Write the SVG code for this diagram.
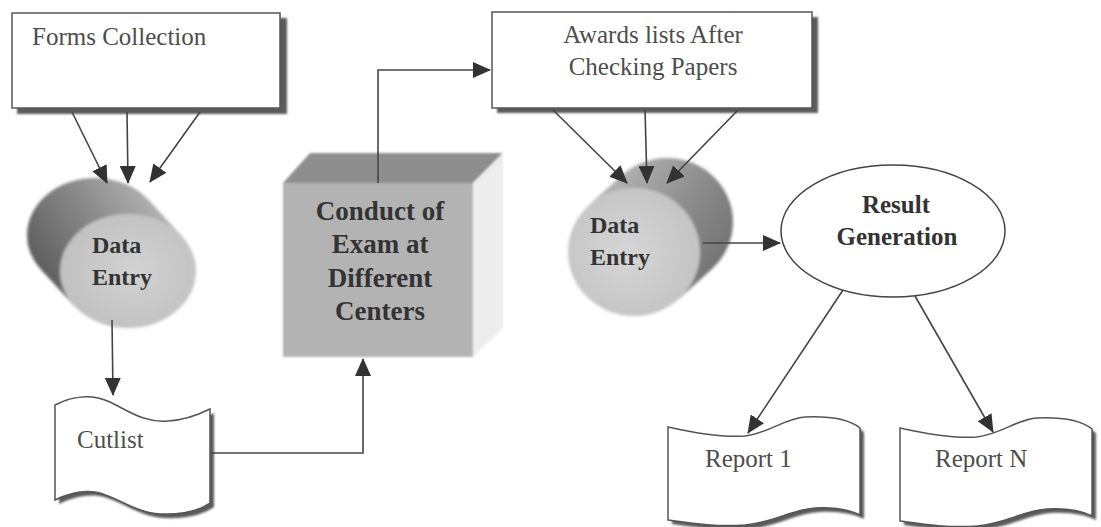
<svg xmlns="http://www.w3.org/2000/svg" width="1101" height="527" viewBox="0 0 1101 527">
  <style>
    .lbl { font-family: "Liberation Serif", "Times New Roman", serif; font-size: 25px; fill: #4d4d4d; }
    .bold { font-family: "Liberation Serif", "Times New Roman", serif; font-weight: bold; fill: #333333; }
    .box { fill: #ffffff; stroke: #555555; stroke-width: 1.5; }
    .shadow { fill: #5a5a5a; }
    .edge { fill: none; stroke: #444444; stroke-width: 1.6; }
  </style>
  <defs>
    <marker id="arr" viewBox="0 0 18 16" refX="17" refY="8" markerWidth="18" markerHeight="16" markerUnits="userSpaceOnUse" orient="auto">
      <path d="M0,0 L18,8 L0,16 Z" fill="#333333"/>
    </marker>
    <linearGradient id="bodyL" gradientUnits="userSpaceOnUse" x1="30" y1="285" x2="175" y2="190">
      <stop offset="0" stop-color="#555555"/>
      <stop offset="0.5" stop-color="#888888"/>
      <stop offset="1" stop-color="#c0c0c0"/>
    </linearGradient>
    <linearGradient id="bodyR" gradientUnits="userSpaceOnUse" x1="600" y1="180" x2="735" y2="265">
      <stop offset="0" stop-color="#b8b8b8"/>
      <stop offset="0.55" stop-color="#8c8c8c"/>
      <stop offset="1" stop-color="#6e6e6e"/>
    </linearGradient>
    <radialGradient id="faceL" cx="0.55" cy="0.5" r="0.6">
      <stop offset="0" stop-color="#d2d2d2"/>
      <stop offset="1" stop-color="#bfbfbf"/>
    </radialGradient>
    <radialGradient id="faceR" cx="0.45" cy="0.5" r="0.6">
      <stop offset="0" stop-color="#d6d6d6"/>
      <stop offset="1" stop-color="#c2c2c2"/>
    </radialGradient>
    <filter id="soft" x="-10%" y="-10%" width="120%" height="120%">
      <feGaussianBlur stdDeviation="1.6"/>
    </filter>
    <filter id="softer" x="-5%" y="-5%" width="110%" height="110%">
      <feGaussianBlur stdDeviation="0.8"/>
    </filter>
    <!-- wavy document outline, wave rises first then dips -->
    <path id="docA" d="M55,405 C70,397 90,393 110,402 C130,412 145,423 168,421 C185,420 200,414 210,409 L210,503 C200,510 185,515 160,514 C135,513 115,495 95,492 C80,490 65,495 55,500 Z"/>
    <!-- wavy document outline, wave dips first then rises -->
    <path id="docB" d="M0,0 C22,5 52,11 77,9 C102,6 117,-9 137,-10 C162,-11 182,-7 192,1 L192,88 C182,83 167,80 147,81 C122,83 107,95 77,98 C47,100 22,96 0,93 Z"/>
  </defs>

  <!-- Forms Collection -->
  <g id="forms-collection">
    <rect class="shadow" x="17" y="18" width="270" height="96" filter="url(#softer)"/>
    <rect class="box" x="12" y="13" width="268" height="95"/>
    <text class="lbl" x="32" y="45">Forms Collection</text>
  </g>

  <!-- Awards lists -->
  <g id="awards-lists">
    <rect class="shadow" x="497" y="17" width="321" height="96" filter="url(#softer)"/>
    <rect class="box" x="492" y="12" width="320" height="96"/>
    <text class="lbl" x="653" y="43" text-anchor="middle">Awards lists After</text>
    <text class="lbl" x="653" y="75" text-anchor="middle">Checking Papers</text>
  </g>

  <!-- Data Entry (left cylinder) -->
  <g id="data-entry-1">
    <g filter="url(#soft)">
      <ellipse cx="95" cy="235" rx="68" ry="57" fill="url(#bodyL)"/>
      <polygon points="181.9,236.3 148.9,200.3 41.1,269.7 74.1,305.7" fill="url(#bodyL)"/>
      <ellipse cx="128" cy="271" rx="68" ry="57" fill="url(#faceL)"/>
    </g>
    <text class="bold" font-size="24" x="92" y="253">Data</text>
    <text class="bold" font-size="24" x="92" y="285">Entry</text>
  </g>

  <!-- Conduct of Exam box -->
  <g id="conduct-exam">
    <g filter="url(#softer)">
      <polygon points="283,183 310,153 503,153 473,183" fill="#8e8e8e"/>
      <polygon points="473,183 503,153 503,328 473,357" fill="#ededed"/>
      <rect x="283" y="183" width="190" height="174" fill="#b3b3b3"/>
    </g>
    <g class="bold" font-size="27" text-anchor="middle">
      <text x="380" y="220">Conduct of</text>
      <text x="380" y="253">Exam at</text>
      <text x="380" y="287">Different</text>
      <text x="380" y="320">Centers</text>
    </g>
  </g>

  <!-- Data Entry (right cylinder) -->
  <g id="data-entry-2">
    <g filter="url(#soft)">
      <ellipse cx="667" cy="222" rx="66" ry="64" fill="url(#bodyR)"/>
      <polygon points="679.2,298.7 712.2,268.7 621.8,175.3 588.8,205.3" fill="url(#bodyR)"/>
      <ellipse cx="634" cy="252" rx="66" ry="64" fill="url(#faceR)"/>
    </g>
    <text class="bold" font-size="24" x="590" y="233">Data</text>
    <text class="bold" font-size="24" x="590" y="265">Entry</text>
  </g>

  <!-- Result Generation -->
  <g id="result-generation">
    <ellipse cx="893" cy="231" rx="112" ry="66" fill="#ffffff" stroke="#444444" stroke-width="1.5"/>
    <text class="bold" font-size="25" x="896" y="213" text-anchor="middle">Result</text>
    <text class="bold" font-size="25" x="897" y="245" text-anchor="middle">Generation</text>
  </g>

  <!-- Cutlist -->
  <g id="cutlist">
    <use href="#docA" x="4" y="4" class="shadow" filter="url(#softer)"/>
    <use href="#docA" class="box"/>
    <text class="lbl" x="77" y="448">Cutlist</text>
  </g>

  <!-- Report 1 -->
  <g id="report-1">
    <use href="#docB" x="672" y="431" class="shadow" filter="url(#softer)"/>
    <use href="#docB" x="668" y="427" class="box"/>
    <text class="lbl" x="705" y="467">Report 1</text>
  </g>

  <!-- Report N -->
  <g id="report-n">
    <use href="#docB" x="904" y="432" class="shadow" filter="url(#softer)"/>
    <use href="#docB" x="900" y="428" class="box"/>
    <text class="lbl" x="935" y="467">Report N</text>
  </g>

  <!-- Connectors -->
  <g id="connectors" class="edge">
    <line x1="72" y1="112" x2="107" y2="183" marker-end="url(#arr)"/>
    <line x1="127" y1="112" x2="128" y2="183" marker-end="url(#arr)"/>
    <line x1="200" y1="112" x2="150" y2="182" marker-end="url(#arr)"/>
    <line x1="112" y1="320" x2="113" y2="395" marker-end="url(#arr)"/>
    <polyline points="212,453 363,453 363,359" marker-end="url(#arr)"/>
    <polyline points="378,183 378,70 490,70" marker-end="url(#arr)"/>
    <line x1="553" y1="110" x2="627" y2="183" marker-end="url(#arr)"/>
    <line x1="645" y1="110" x2="647" y2="183" marker-end="url(#arr)"/>
    <line x1="738" y1="110" x2="667" y2="183" marker-end="url(#arr)"/>
    <line x1="703" y1="243" x2="780" y2="243" marker-end="url(#arr)"/>
    <line x1="843" y1="290" x2="748" y2="433" marker-end="url(#arr)"/>
    <line x1="915" y1="296" x2="993" y2="432" marker-end="url(#arr)"/>
  </g>
</svg>
